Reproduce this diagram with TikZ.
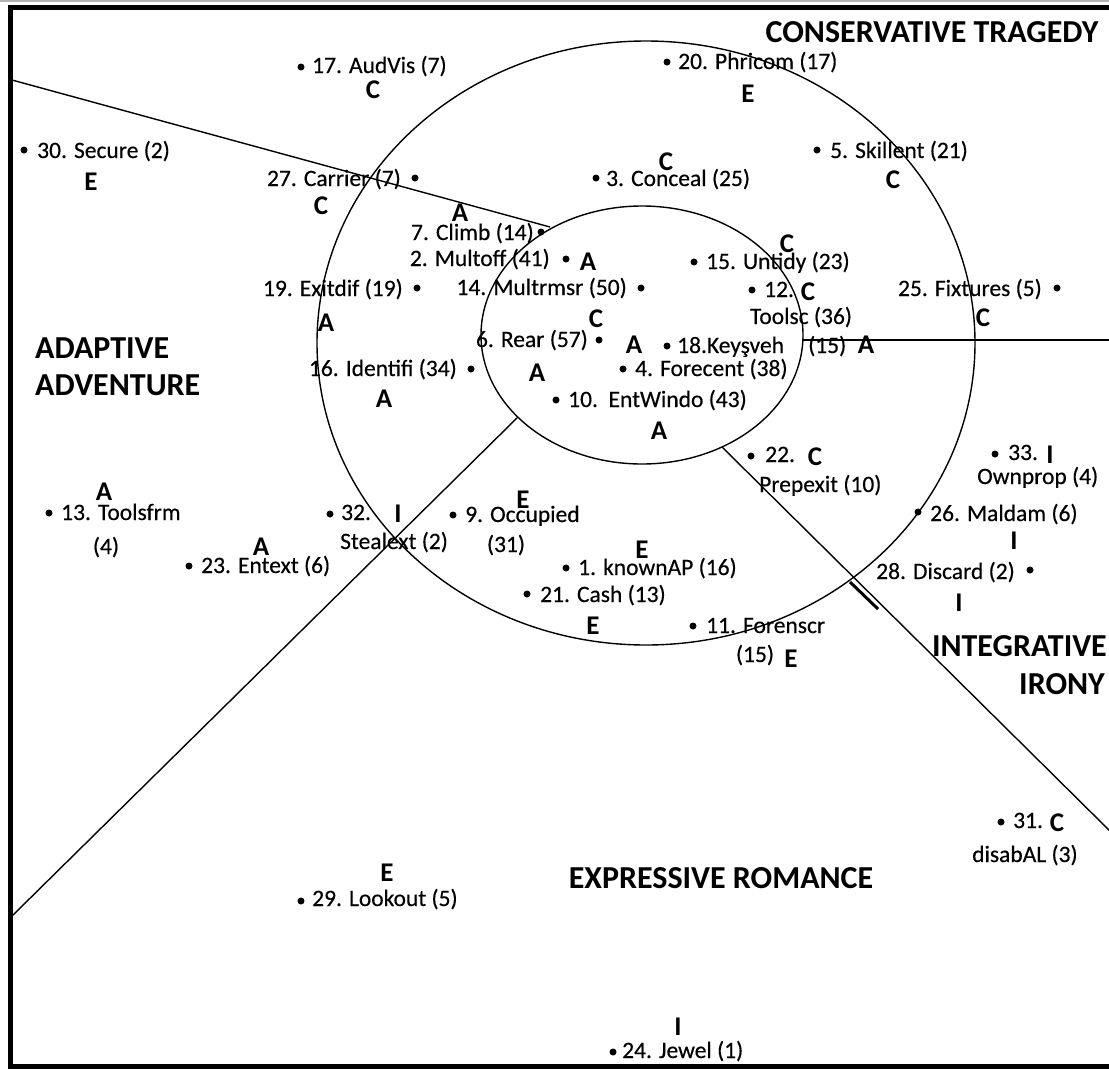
\documentclass[tikz,border=0pt]{standalone}
\usepackage{fontspec}
\setmainfont{Carlito}
\newfontfamily\lblfont{Carlito}[FakeBold=0.4]
\begin{document}
\begin{tikzpicture}[x=1pt,y=-1pt,
  pdot/.style={circle,fill=black,inner sep=0pt,minimum size=7pt},
  lbl/.style={font=\lblfont\fontsize{23.5}{26}\selectfont,inner sep=0pt,text height=17pt,text depth=5pt},
  cls/.style={font=\fontsize{27}{30}\selectfont\bfseries,inner sep=0pt,text height=18pt,text depth=0pt},
  quad/.style={font=\fontsize{32}{38}\selectfont\bfseries,inner sep=0pt,text height=21pt,text depth=0pt},
  ring/.style={line width=1.4pt},
  divider/.style={line width=1.4pt},
  frame/.style={line width=5pt,line join=miter},
]
\useasboundingbox (0,0) rectangle (1109,1069);
\clip (0,0) rectangle (1109,1069);

% outer frame (open on the right)
\draw[gray!60,line width=1.5pt] (0,1) -- (1115,1);
\draw[frame] (1115,7.5) -- (10,7.5) -- (10,1066) -- (1115,1066);

% the two rings
\coordinate (outerC) at (646,343);
\coordinate (innerC) at (642,335);
\draw[ring] (outerC) ellipse [x radius=329pt, y radius=302pt];
\draw[ring] (innerC) ellipse [x radius=161pt, y radius=129pt];

% quadrant dividers
\coordinate (d1a) at (12,80);    \coordinate (d1b) at (550,227);
\coordinate (d2a) at (803,340);  \coordinate (d2b) at (1115,340);
\coordinate (d3a) at (13,915);   \coordinate (d3b) at (518,417);
\coordinate (d4a) at (722,447);  \coordinate (d4b) at (1115,836);
\coordinate (d4c) at (850,582);  \coordinate (d4d) at (878,609);
\draw[divider] (d1a) -- (d1b);
\draw[divider] (d2a) -- (d2b);
\draw[divider] (d3a) -- (d3b);
\draw[divider] (d4a) -- (d4b);
\draw[line width=3pt] (d4c) -- (d4d);

% quadrant titles
\node[quad] (qC) at (932,32) {CONSERVATIVE TRAGEDY};
\node[quad,anchor=west] (qA1) at (35,348) {ADAPTIVE};
\node[quad,anchor=west] (qA2) at (35,385) {ADVENTURE};
\node[quad,anchor=east] (qI1) at (1107,646) {INTEGRATIVE};
\node[quad,anchor=east] (qI2) at (1105,684) {IRONY};
\node[quad] (qE) at (721,878) {EXPRESSIVE ROMANCE};

% points, labels and class letters
\node[pdot] (p17) at (301,67) {};
\node[lbl,anchor=west] (t17) at (312,67) {17. AudVis (7)};
\node[cls] (c17) at (373,89) {C};

\node[pdot] (p20) at (667,62) {};
\node[lbl,anchor=west] (t20) at (678,63) {20. Phricom (17)};
\node[cls] (c20) at (748,93) {E};

\node[pdot] (p30) at (24,150) {};
\node[lbl,anchor=west] (t30) at (37,152) {30. Secure (2)};
\node[cls] (c30) at (91,181) {E};

\node[pdot] (p27) at (415,178) {};
\node[lbl,anchor=east] (t27) at (401,180) {27. Carrier (7)};
\node[cls] (c27) at (321,205) {C};

\node[pdot] (p3) at (596,178) {};
\node[lbl,anchor=west] (t3) at (606,180) {3. Conceal (25)};
\node[cls] (c3) at (666,161) {C};

\node[pdot] (p5) at (817,150) {};
\node[lbl,anchor=west] (t5) at (830,152) {5. Skillent (21)};
\node[cls] (c5) at (893,179) {C};

\node[pdot] (p7) at (541,232) {};
\node[lbl,anchor=east] (t7) at (534,234) {7. Climb (14)};
\node[cls] (c7) at (460,212) {A};

\node[pdot] (p2) at (566,259) {};
\node[lbl,anchor=east] (t2) at (550,260) {2. Multoff (41)};
\node[cls] (c2) at (588,261) {A};

\node[pdot] (p15) at (694,262) {};
\node[lbl,anchor=west] (t15) at (706,263) {15. Untidy (23)};
\node[cls] (c15) at (787,243) {C};

\node[pdot] (p19) at (417,288) {};
\node[lbl,anchor=east] (t19) at (403,290) {19. Exitdif (19)};
\node[cls] (c19) at (326,322) {A};

\node[pdot] (p14) at (641,288) {};
\node[lbl,anchor=east] (t14) at (627,289) {14. Multrmsr (50)};
\node[cls] (c14) at (596,318) {C};

\node[pdot] (p12) at (752,290) {};
\node[lbl,anchor=west] (t12) at (764,291) {12.};
\node[cls] (c12) at (808,291) {C};
\node[lbl] (t12b) at (801,318) {Toolsc (36)};

\node[pdot] (p25) at (1057,288) {};
\node[lbl,anchor=east] (t25) at (1042,290) {25. Fixtures (5)};
\node[cls] (c25) at (983,317) {C};

\node[pdot] (p6) at (599,340) {};
\node[lbl,anchor=east] (t6) at (588,341) {6. Rear (57)};
\node[cls] (c6) at (634,344) {A};

\node[pdot] (p18) at (667,346) {};
\node[lbl,anchor=west] (t18) at (677,347) {18.Keyşveh};
\node[lbl,anchor=west] (t18b) at (808,347) {(15)};
\node[cls] (c18) at (866,344) {A};

\node[pdot] (p16) at (471,369) {};
\node[lbl,anchor=east] (t16) at (457,370) {16. Identifi (34)};
\node[cls] (c16) at (384,398) {A};
\node[cls] (c4) at (537,372) {A};

\node[pdot] (p4) at (623,369) {};
\node[lbl,anchor=west] (t4) at (635,370) {4. Forecent (38)};

\node[pdot] (p10) at (556,400) {};
\node[lbl,anchor=west] (t10) at (568,401) {10.\ \ EntWindo (43)};
\node[cls] (c10) at (659,430) {A};

\node[pdot] (p22) at (751,456) {};
\node[lbl,anchor=west] (t22) at (765,456) {22.};
\node[cls] (c22) at (815,456) {C};
\node[lbl,anchor=west] (t22b) at (759,486) {Prepexit (10)};

\node[pdot] (p33) at (995,454) {};
\node[lbl,anchor=west] (t33) at (1008,454) {33.};
\node[cls] (c33) at (1050,454) {I};
\node[lbl,anchor=west] (t33b) at (977,478) {Ownprop (4)};

\node[pdot] (p13) at (49,513) {};
\node[lbl,anchor=west] (t13) at (61,514) {13. Toolsfrm};
\node[lbl] (t13b) at (106,548) {(4)};
\node[cls] (c13) at (104,491) {A};

\node[pdot] (p32) at (330,514) {};
\node[lbl,anchor=west] (t32) at (341,514) {32.};
\node[cls] (c32) at (398,513) {I};
\node[lbl,anchor=west] (t32b) at (340,543) {Stealext (2)};

\node[pdot] (p9) at (453,515) {};
\node[lbl,anchor=west] (t9) at (465,516) {9. Occupied};
\node[lbl] (t9b) at (506,546) {(31)};
\node[cls] (c9) at (523,499) {E};

\node[pdot] (p26) at (918,512) {};
\node[lbl,anchor=west] (t26) at (930,515) {26. Maldam (6)};
\node[cls] (c26) at (1014,540) {I};

\node[pdot] (p23) at (189,566) {};
\node[lbl,anchor=west] (t23) at (201,567) {23. Entext (6)};
\node[cls] (c23) at (261,546) {A};

\node[pdot] (p1) at (566,568) {};
\node[lbl,anchor=west] (t1) at (578,569) {1. knownAP (16)};
\node[cls] (c1) at (642,549) {E};

\node[pdot] (p28) at (1030,570) {};
\node[lbl,anchor=east] (t28) at (1015,573) {28. Discard (2)};
\node[cls] (c28) at (959,602) {I};

\node[pdot] (p21) at (527,594) {};
\node[lbl,anchor=west] (t21) at (540,596) {21. Cash (13)};
\node[cls] (c21) at (593,625) {E};

\node[pdot] (p11) at (693,626) {};
\node[lbl,anchor=west] (t11) at (706,627) {11. Forenscr};
\node[lbl] (t11b) at (755,656) {(15)};
\node[cls] (c11) at (791,658) {E};

\node[pdot] (p31) at (1001,822) {};
\node[lbl,anchor=west] (t31) at (1013,822) {31.};
\node[cls] (c31) at (1057,822) {C};
\node[lbl,anchor=west] (t31b) at (972,856) {disabAL (3)};

\node[pdot] (p29) at (301,901) {};
\node[lbl,anchor=west] (t29) at (312,900) {29. Lookout (5)};
\node[cls] (c29) at (387,872) {E};

\node[pdot] (p24) at (613,1052) {};
\node[lbl,anchor=west] (t24) at (622,1052) {24. Jewel (1)};
\node[cls] (c24) at (678,1026) {I};
\end{tikzpicture}
\end{document}
